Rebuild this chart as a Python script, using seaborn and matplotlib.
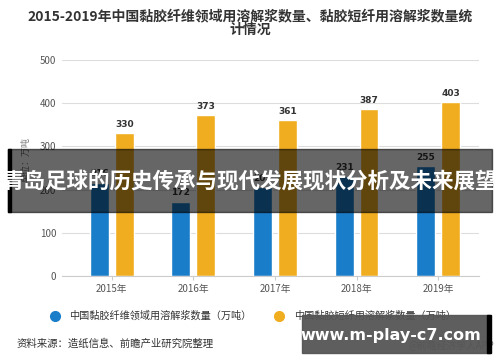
import matplotlib
matplotlib.use("Agg")
import matplotlib.pyplot as plt
from matplotlib.lines import Line2D
from matplotlib.patches import Rectangle
import pandas as pd
import seaborn as sns

# ── data ──────────────────────────────────────────────
years = ["2015年", "2016年", "2017年", "2018年", "2019年"]
fiber_pulp = [216, 172, 205, 231, 255]      # 黏胶纤维领域用溶解浆
staple_pulp = [330, 373, 361, 387, 403]     # 黏胶短纤用溶解浆
series = ["中国黏胶纤维领域用溶解浆数量（万吨）", "中国黏胶短纤用溶解浆数量（万吨）"]
colors = ["#1a7dc9", "#f0ad1f"]
y_ticks = [0, 100, 200, 300, 400, 500]

title = "2015-2019年中国黏胶纤维领域用溶解浆数量、黏胶短纤用溶解浆数量统\n计情况"
y_label = "单位：万吨"
source = "资料来源：造纸信息、前瞻产业研究院整理"
credit = "@前瞻经济学人APP"
banner = "青岛足球的历史传承与现代发展现状分析及未来展望"
site = "www.m-play-c7.com"

df = pd.DataFrame({
    "year": years * 2,
    "value": fiber_pulp + staple_pulp,
    "series": [series[0]] * len(years) + [series[1]] * len(years),
})

sns.set_style("white")
plt.rcParams["font.family"] = ["Noto Sans CJK SC", "DejaVu Sans"]

fig = plt.figure(figsize=(5, 3.62), dpi=100)
ax = fig.add_axes([0.124, 0.238, 0.834, 0.596])

sns.barplot(data=df, x="year", y="value", hue="series", palette=colors,
            width=0.61, gap=0.24, saturation=1, legend=False, ax=ax)

for cont in ax.containers:
    ax.bar_label(cont, fontsize=6.5, fontweight="bold", color="#333333",
                 padding=3, family="DejaVu Sans")

ax.set_xlim(-0.61, 4.5)
ax.set_ylim(0, 500)
ax.set_yticks(y_ticks)
ax.yaxis.grid(True, color="#dddddd", linewidth=0.8)
ax.set_axisbelow(True)
for s in ["top", "right", "left"]:
    ax.spines[s].set_visible(False)
ax.spines["bottom"].set_color("#cccccc")
ax.tick_params(axis="y", length=0, labelsize=7, labelcolor="#555555", pad=4)
ax.tick_params(axis="x", length=3, color="#cccccc", labelsize=7,
               labelcolor="#555555", pad=3, bottom=True)
ax.set_xlabel("")
ax.set_ylabel(y_label, fontsize=6.5, color="#777777", labelpad=2)
ax.yaxis.set_label_coords(-0.075, 0.54)

fig.text(0.5, 0.975, title, ha="center", va="top", fontsize=10,
         fontweight="bold", color="#333333", linespacing=0.95)

handles = [Line2D([0], [0], marker="o", linestyle="", markersize=7,
                  markerfacecolor=c, markeredgecolor=c) for c in colors]
fig.legend(handles, series, loc="center", bbox_to_anchor=(0.5, 0.127),
           ncol=2, frameon=False, fontsize=7.3, labelcolor="#333333",
           handletextpad=0.4, columnspacing=1.8)

fig.text(0.034, 0.052, source, ha="left", va="center", fontsize=7.5,
         color="#333333")
fig.text(0.988, 0.045, credit, ha="right", va="center", fontsize=7,
         color="#777777")

# overlay banner across the middle
fig.patches.append(Rectangle((0.016, 0.413), 0.968, 0.175,
                             transform=fig.transFigure, color="black",
                             alpha=0.6, zorder=10))
fig.patches.append(Rectangle((0.016, 0.413), 0.006, 0.175,
                             transform=fig.transFigure, color="black",
                             zorder=10))
fig.text(0.5, 0.5, banner, ha="center", va="center", fontsize=15.5,
         fontweight="bold", color="white", zorder=11)

# site box bottom right
fig.patches.append(Rectangle((0.604, 0.025), 0.376, 0.105,
                             transform=fig.transFigure, color="#555555",
                             alpha=0.95, zorder=10))
fig.patches.append(Rectangle((0.974, 0.025), 0.008, 0.105,
                             transform=fig.transFigure, color="black",
                             zorder=10))
fig.text(0.782, 0.072, site, ha="center", va="center", fontsize=11.5,
         fontweight="bold", color="white", family="DejaVu Sans", zorder=11)

fig.savefig("out.png", dpi=100)
